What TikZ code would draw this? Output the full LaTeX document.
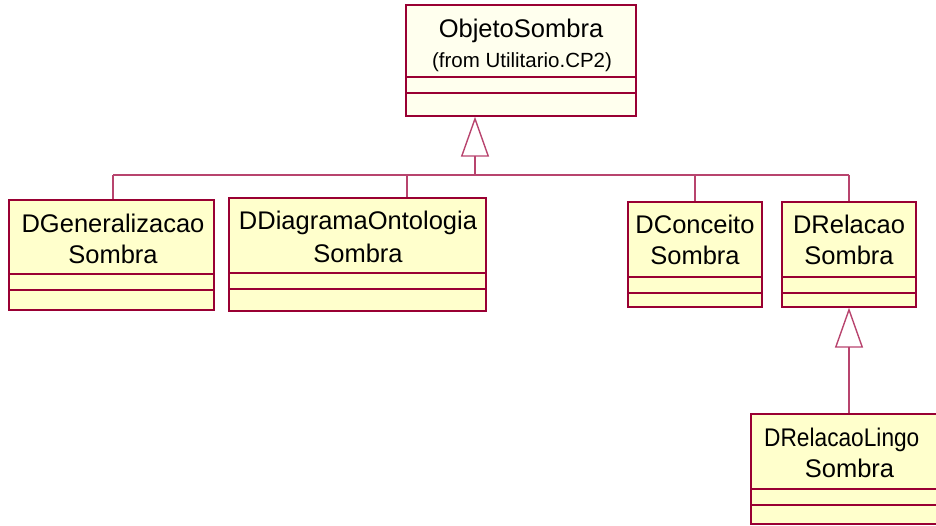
\documentclass[tikz,border=0pt]{standalone}
\usepackage{fontspec}
\setmainfont{Liberation Sans}
\usetikzlibrary{arrows.meta,fit,calc}
\definecolor{bord}{HTML}{990033}
\definecolor{conn}{HTML}{B8446E}
\definecolor{clsfill}{HTML}{FFFFCC}
\definecolor{objfill}{HTML}{FFFFEE}
\tikzset{
 clsbox/.style={draw=bord, line width=1.3pt, fill=clsfill, inner sep=0pt},
 cmpline/.style={draw=bord, line width=1.1pt},
 lbl/.style={font=\fontsize{25.5}{31}\selectfont, inner sep=0pt, anchor=base},
 smalllbl/.style={font=\fontsize{20.5}{24}\selectfont, inner sep=0pt, anchor=base},
 conline/.style={draw=conn, line width=1.4pt},
 gen/.style={conline, -{Triangle[open, length=40pt, width=28pt, line width=1.4pt]}}
}
\begin{document}
\begin{tikzpicture}[x=1pt,y=-1pt]
\useasboundingbox (0,0) rectangle (936,525);
\clip (0,0) rectangle (936,525);
% ObjetoSombra
\node[clsbox, fill=objfill, fit={(406,5) (636,116)}] (obj) {};
\draw[cmpline] (406,77) -- (636,77) (406,93) -- (636,93);
\node[lbl] (objn) at (521,37) {ObjetoSombra};
\node[smalllbl] (objf) at (522,67) {(from Utilitario.CP2)};
% DGeneralizacao
\node[clsbox, fit={(9,200) (214,310)}] (gz) {};
\draw[cmpline] (9,274) -- (214,274) (9,290) -- (214,290);
\node[lbl] (gza) at (113,232) {DGeneralizacao};
\node[lbl] (gzb) at (113,263) {Sombra};
% DDiagramaOntologia
\node[clsbox, fit={(229,198) (486,311)}] (dd) {};
\draw[cmpline] (229,273) -- (486,273) (229,289) -- (486,289);
\node[lbl] (dda) at (358,229) {DDiagramaOntologia};
\node[lbl] (ddb) at (358,262) {Sombra};
% DConceito
\node[clsbox, fit={(628,202) (762,307)}] (dc) {};
\draw[cmpline] (628,277) -- (762,277) (628,293) -- (762,293);
\node[lbl] (dca) at (695,233) {DConceito};
\node[lbl] (dcb) at (695,264) {Sombra};
% DRelacao
\node[clsbox, fit={(782,202) (916,307)}] (dr) {};
\draw[cmpline] (782,277) -- (916,277) (782,293) -- (916,293);
\node[lbl] (dra) at (849,233) {DRelacao};
\node[lbl] (drb) at (849,264) {Sombra};
% DRelacaoLingo
\node[clsbox, fit={(751,414) (948,524)}] (dl) {};
\draw[cmpline] (751,489) -- (948,489) (751,505) -- (948,505);
\node[lbl, anchor=base west] (dla) at (764,446) {\scalebox{0.89}[1]{DRelacaoLingo}};
\node[lbl] (dlb) at (849.5,477) {Sombra};
% connectors
\coordinate (bus) at (475,175);
\coordinate (b1) at (113,175);
\coordinate (b2) at (407,175);
\coordinate (b3) at (695,175);
\coordinate (b4) at (849,175);
\draw[conline] (b1) -- (b4);
\draw[conline] (b1) -- (b1 |- gz.north);
\draw[conline] (b2) -- (b2 |- dd.north);
\draw[conline] (b3) -- (b3 |- dc.north);
\draw[conline] (b4) -- (b4 |- dr.north);
\draw[gen] (bus) -- (bus |- obj.south);
\draw[gen] (dr.south |- dl.north) -- (dr.south);
\end{tikzpicture}
\end{document}
